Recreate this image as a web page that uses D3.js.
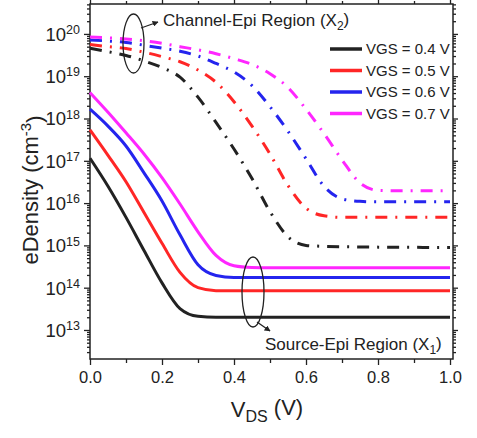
<!DOCTYPE html>
<html>
<head>
<meta charset="utf-8">
<script src="https://cdn.jsdelivr.net/npm/d3@7/dist/d3.min.js"></script>
<style>
  body { margin: 0; background: #fff; }
  text { font-family: "Liberation Sans", Arial, sans-serif; fill: #222; }
</style>
</head>
<body>
<div id="chart"></div>
<script>
// VDS sweep (V)
const vds = [0, 0.05, 0.1, 0.15, 0.2, 0.25, 0.3, 0.35, 0.4, 0.45, 0.5,
  0.55, 0.6, 0.65, 0.7, 0.75, 0.8, 0.85, 0.9, 0.95, 1.0];

const vgsLabels = ["VGS = 0.4 V", "VGS = 0.5 V", "VGS = 0.6 V", "VGS = 0.7 V"];
const vgsColors = ["#222222", "#ff2626", "#2424ee", "#ff26ff"];

// Source-Epi region (X1), solid lines
const sourceVgs04 = [1.15e17, 2.5e16, 4.6e15, 7.6e14, 1.3e14, 3.2e13, 2.1e13, 2.0e13, 2.0e13, 2.0e13, 2.0e13,
  2.0e13, 2.0e13, 2.0e13, 2.0e13, 2.0e13, 2.0e13, 2.0e13, 2.0e13, 2.0e13, 2.0e13];
const sourceVgs05 = [5.4e17, 1.35e17, 3.2e16, 6.0e15, 1.12e15, 2.3e14, 1.0e14, 8.5e13, 8.5e13, 8.5e13, 8.5e13,
  8.5e13, 8.5e13, 8.5e13, 8.5e13, 8.5e13, 8.5e13, 8.5e13, 8.5e13, 8.5e13, 8.5e13];
const sourceVgs06 = [1.66e18, 6.6e17, 2.24e17, 5.2e16, 1.12e16, 1.78e15, 3.5e14, 1.95e14, 1.74e14, 1.74e14, 1.74e14,
  1.74e14, 1.74e14, 1.74e14, 1.74e14, 1.74e14, 1.74e14, 1.74e14, 1.74e14, 1.74e14, 1.74e14];
const sourceVgs07 = [4.1e18, 1.41e18, 4.6e17, 1.45e17, 4.0e16, 9.5e15, 2.1e15, 5.8e14, 3.3e14, 3.0e14, 2.95e14,
  2.95e14, 2.95e14, 2.95e14, 2.95e14, 2.95e14, 2.95e14, 2.95e14, 2.95e14, 2.95e14, 2.95e14];

// Channel-Epi region (X2), dash-dot lines
const channelVgs04 = [4.6e19, 3.8e19, 3.1e19, 2.3e19, 1.6e19, 9.5e18, 3.2e18, 8.1e17, 1.9e17, 3.8e16, 6.3e15,
  1.6e15, 1.0e15, 9.5e14, 9.3e14, 9.2e14, 9.1e14, 9.0e14, 9.0e14, 8.9e14, 8.9e14];
const channelVgs05 = [5.6e19, 5.0e19, 4.5e19, 3.7e19, 2.9e19, 2.2e19, 1.4e19, 7.2e18, 2.5e18, 6.6e17, 1.45e17,
  2.6e16, 7.6e15, 5.0e15, 4.6e15, 4.6e15, 4.6e15, 4.6e15, 4.6e15, 4.6e15, 4.6e15];
const channelVgs06 = [7.2e19, 6.8e19, 6.3e19, 5.4e19, 4.6e19, 3.9e19, 3.0e19, 2.0e19, 1.26e19, 6.0e18, 1.9e18,
  5.0e17, 1.12e17, 2.5e16, 1.26e16, 1.1e16, 1.07e16, 1.07e16, 1.07e16, 1.07e16, 1.07e16];
const channelVgs07 = [8.5e19, 8.1e19, 7.6e19, 6.9e19, 6.0e19, 5.0e19, 4.2e19, 3.4e19, 2.6e19, 1.9e19, 1.15e19,
  5.4e18, 1.66e18, 4.4e17, 1.05e17, 3.0e16, 2.0e16, 1.95e16, 1.95e16, 1.95e16, 1.95e16];

const xTicks = [0, 0.2, 0.4, 0.6, 0.8, 1.0];
const xMinorTicks = [0.1, 0.3, 0.5, 0.7, 0.9];
const yTicks = [1e13, 1e14, 1e15, 1e16, 1e17, 1e18, 1e19, 1e20];

const sourceSeries = [sourceVgs04, sourceVgs05, sourceVgs06, sourceVgs07];
const channelSeries = [channelVgs04, channelVgs05, channelVgs06, channelVgs07];

// plot box
const width = 477;
const height = 438;
const plotLeft = 90, plotRight = 453, plotTop = 4, plotBottom = 359;

const svg = d3.select("#chart")
  .append("svg")
  .attr("width", width)
  .attr("height", height);

svg.append("rect").attr("width", width).attr("height", height).attr("fill", "#fff");

const x = d3.scaleLinear().domain([0, 1.0083]).range([plotLeft, plotRight]);
const y = d3.scaleLog().domain([2.06e12, 5.1e20]).range([plotBottom, plotTop]);

// minor log ticks 2..9 per decade
let yMinor = [];
for (let e = 12; e <= 20; e++) {
  for (let m = 2; m <= 9; m++) {
    const v = m * Math.pow(10, e);
    if (v > y.domain()[0] && v < y.domain()[1]) yMinor.push(v);
  }
}

const axisStyle = (g) => {
  g.select(".domain").remove();
  g.selectAll("line").attr("stroke", "#222").attr("stroke-width", 1.3);
};

// minor ticks
svg.append("g").attr("transform", `translate(${plotLeft},0)`)
  .call(d3.axisLeft(y).tickValues(yMinor).tickSize(3).tickFormat(""))
  .call(axisStyle);
svg.append("g").attr("transform", `translate(${plotRight},0)`)
  .call(d3.axisRight(y).tickValues(yMinor).tickSize(3).tickFormat(""))
  .call(axisStyle);
svg.append("g").attr("transform", `translate(0,${plotBottom})`)
  .call(d3.axisBottom(x).tickValues(xMinorTicks).tickSize(4).tickFormat(""))
  .call(axisStyle);
svg.append("g").attr("transform", `translate(0,${plotTop})`)
  .call(d3.axisTop(x).tickValues(xMinorTicks).tickSize(3).tickFormat(""))
  .call(axisStyle);

// major ticks
svg.append("g").attr("transform", `translate(${plotRight},0)`)
  .call(d3.axisRight(y).tickValues(yTicks).tickSize(5).tickFormat(""))
  .call(axisStyle);
svg.append("g").attr("transform", `translate(0,${plotTop})`)
  .call(d3.axisTop(x).tickValues(xTicks).tickSize(4).tickFormat(""))
  .call(axisStyle);

svg.append("g")
  .attr("transform", `translate(0,${plotBottom})`)
  .call(d3.axisBottom(x).tickValues(xTicks).tickSize(6).tickPadding(6).tickFormat(d3.format(".1f")))
  .call(axisStyle)
  .selectAll("text")
  .style("font-size", "16.5px")
  .attr("fill", "#222");

const yAxis = svg.append("g")
  .attr("transform", `translate(${plotLeft},0)`)
  .call(d3.axisLeft(y).tickValues(yTicks).tickSize(6).tickPadding(4).tickFormat(""))
  .call(axisStyle);

// 10^n labels with superscript
yAxis.selectAll(".tick text")
  .attr("fill", "#222")
  .attr("dy", "0.35em")
  .style("font-size", "18.5px")
  .each(function (d) {
    const t = d3.select(this);
    t.append("tspan").text("10");
    t.append("tspan")
      .attr("dy", "-0.55em")
      .style("font-size", "12.5px")
      .text(Math.round(Math.log10(d)));
  });

// frame
svg.append("rect")
  .attr("x", plotLeft)
  .attr("y", plotTop)
  .attr("width", plotRight - plotLeft)
  .attr("height", plotBottom - plotTop)
  .attr("fill", "none")
  .attr("stroke", "#222")
  .attr("stroke-width", 1.5);

const line = d3.line()
  .x((d, i) => x(vds[i]))
  .y((d) => y(d))
  .curve(d3.curveMonotoneX);

// Channel-Epi dash-dot curves
svg.selectAll(".channel")
  .data(channelSeries)
  .join("path")
  .attr("class", "channel")
  .attr("d", line)
  .attr("fill", "none")
  .attr("stroke", (d, i) => vgsColors[i])
  .attr("stroke-width", 3)
  .attr("stroke-dasharray", "12,8,2,8");

// Source-Epi solid curves
svg.selectAll(".source")
  .data(sourceSeries)
  .join("path")
  .attr("class", "source")
  .attr("d", line)
  .attr("fill", "none")
  .attr("stroke", (d, i) => vgsColors[i])
  .attr("stroke-width", 3);

// legend
const legend = svg.append("g").attr("transform", "translate(330,49)");
vgsLabels.forEach((lab, i) => {
  legend.append("line")
    .attr("x1", 0).attr("x2", 32)
    .attr("y1", i * 21.5).attr("y2", i * 21.5)
    .attr("stroke", vgsColors[i])
    .attr("stroke-width", 3.5);
  legend.append("text")
    .attr("x", 36)
    .attr("y", i * 21.5)
    .attr("dy", "0.36em")
    .style("font-size", "15px")
    .text(lab);
});

// arrow marker
svg.append("defs").append("marker")
  .attr("id", "arrow")
  .attr("viewBox", "0 0 10 10")
  .attr("refX", 9).attr("refY", 5)
  .attr("markerWidth", 6).attr("markerHeight", 6)
  .attr("markerUnits", "userSpaceOnUse")
  .attr("orient", "auto")
  .append("path")
  .attr("d", "M0,0 L10,5 L0,10 z")
  .attr("fill", "#222");

// Channel-Epi annotation
svg.append("ellipse")
  .attr("cx", 133.5).attr("cy", 43.5)
  .attr("rx", 10.5).attr("ry", 29.5)
  .attr("fill", "none").attr("stroke", "#222").attr("stroke-width", 1.3);
svg.append("line")
  .attr("x1", 141).attr("y1", 28).attr("x2", 158).attr("y2", 22)
  .attr("stroke", "#222").attr("stroke-width", 1.3)
  .attr("marker-end", "url(#arrow)");
const chText = svg.append("text")
  .attr("x", 163).attr("y", 26)
  .style("font-size", "17px");
chText.append("tspan").text("Channel-Epi Region (X");
chText.append("tspan").attr("dy", "0.3em").style("font-size", "12px").text("2");
chText.append("tspan").attr("dy", "-0.3em").text(")");

// Source-Epi annotation
svg.append("ellipse")
  .attr("cx", 253).attr("cy", 292)
  .attr("rx", 11).attr("ry", 35)
  .attr("fill", "none").attr("stroke", "#222").attr("stroke-width", 1.3);
svg.append("line")
  .attr("x1", 257).attr("y1", 322).attr("x2", 270).attr("y2", 331)
  .attr("stroke", "#222").attr("stroke-width", 1.3)
  .attr("marker-end", "url(#arrow)");
const srcText = svg.append("text")
  .attr("x", 265).attr("y", 350)
  .style("font-size", "17px");
srcText.append("tspan").text("Source-Epi Region (X");
srcText.append("tspan").attr("dy", "0.3em").style("font-size", "12px").text("1");
srcText.append("tspan").attr("dy", "-0.3em").text(")");

// axis titles
const xTitle = svg.append("text")
  .attr("x", 267).attr("y", 417)
  .attr("text-anchor", "middle")
  .style("font-size", "22px");
xTitle.append("tspan").text("V");
xTitle.append("tspan").attr("dy", "0.3em").style("font-size", "16px").text("DS");
xTitle.append("tspan").attr("dy", "-0.3em").text(" (V)");

const yTitle = svg.append("text")
  .attr("transform", "translate(38,190) rotate(-90)")
  .attr("text-anchor", "middle")
  .style("font-size", "22px");
yTitle.append("tspan").text("eDensity (cm");
yTitle.append("tspan").attr("dy", "-0.5em").style("font-size", "15px").text("-3");
yTitle.append("tspan").attr("dy", "0.5em").text(")");
</script>
</body>
</html>
